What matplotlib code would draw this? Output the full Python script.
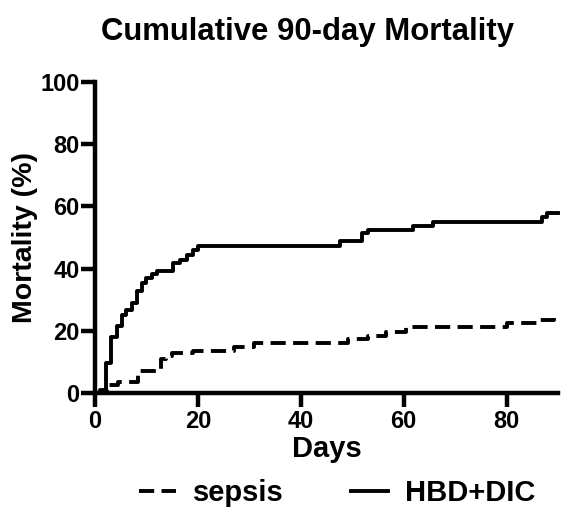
import matplotlib
matplotlib.use("Agg")
import matplotlib.pyplot as plt

plt.rcParams['font.family'] = ['Liberation Sans', 'DejaVu Sans']
plt.rcParams['font.weight'] = 'bold'

# cumulative mortality (%) at each step day
hbd_days = [0, 1.0, 2.2, 3.2, 4.2, 5.2, 6.1, 7.1, 8.1, 9.1, 10.0, 11.0, 12.0,
            15.2, 16.5, 17.8, 19.1, 20.1, 47.6, 51.8, 53.1, 61.8, 65.7,
            86.9, 87.8, 90]
hbd_mort = [0, 1.0, 9.5, 18.1, 21.6, 25.2, 26.8, 28.9, 32.7, 35.4, 37.0, 38.1, 39.1,
            41.8, 42.9, 44.5, 46.1, 47.4, 48.7, 51.4, 52.4, 53.8, 55.1,
            56.7, 57.9, 57.9]

sepsis_days = [0, 2.3, 4.5, 8.3, 12.9, 13.8, 15.0, 19.1, 27.0, 31.0, 49.2,
               53.1, 56.6, 60.5, 80.1, 86.2, 89.3, 90]
sepsis_mort = [0, 2.6, 3.4, 7.2, 10.9, 12.0, 12.8, 13.6, 14.9, 16.2, 17.3,
               18.3, 19.7, 21.3, 22.4, 23.3, 24.1, 24.1]

fig = plt.figure(figsize=(5.62, 5.09), dpi=100)
ax = fig.add_axes([0.169, 0.228, 0.824, 0.611])

ax.plot(sepsis_days, sepsis_mort, drawstyle='steps-post', color='black',
        lw=2.8, dashes=(3.9, 1.9), label='sepsis', clip_on=False)
ax.plot(hbd_days, hbd_mort, drawstyle='steps-post', color='black',
        lw=2.8, label='HBD+DIC', clip_on=False)

ax.set_xlim(0, 90)
ax.set_ylim(0, 100)
ax.set_xticks([0, 20, 40, 60, 80])
ax.set_yticks([0, 20, 40, 60, 80, 100])

for side in ['top', 'right']:
    ax.spines[side].set_visible(False)
for side in ['left', 'bottom']:
    ax.spines[side].set_linewidth(3.2)
ax.tick_params(width=3.2, length=10, labelsize=17)
ax.tick_params(axis='x', pad=2.5)
ax.tick_params(axis='y', pad=1)
for lab in ax.get_xticklabels() + ax.get_yticklabels():
    lab.set_fontweight('bold')

ax.set_xlabel('Days', fontsize=21, fontweight='bold', labelpad=1)
ax.set_ylabel('Mortality (%)', fontsize=20.5, fontweight='bold', labelpad=2)
fig.text(0.547, 1 - 40 / 509, 'Cumulative 90-day Mortality', fontsize=22.4,
         fontweight='bold', ha='center', va='baseline')

fig.legend(loc='center', bbox_to_anchor=(0.60, 0.031), ncol=2,
           frameon=False, handlelength=1.27, handletextpad=0.58,
           columnspacing=2.3, borderpad=0, borderaxespad=0,
           prop={'size': 21, 'weight': 'bold'})

fig.savefig('out.png', dpi=100)
